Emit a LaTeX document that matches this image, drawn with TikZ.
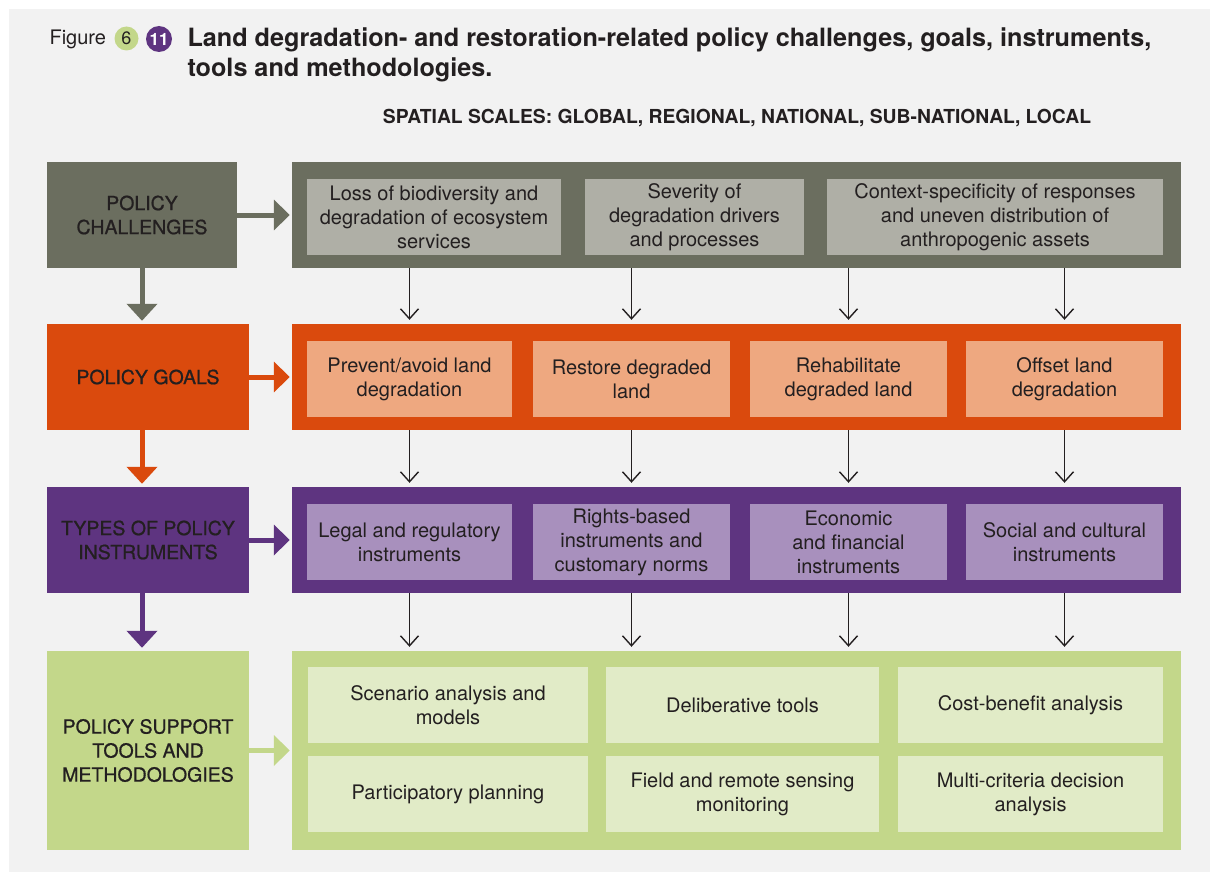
\documentclass[tikz,border=0pt]{standalone}
\usepackage{fontspec}
\setmainfont{TeX Gyre Heros}
\newfontfamily\labelfont[FakeBold=0.8]{TeX Gyre Heros}
\usetikzlibrary{arrows.meta,positioning}
\definecolor{pagegray}{RGB}{242,242,242}
\definecolor{chalDark}{RGB}{107,110,95}
\definecolor{chalLight}{RGB}{175,175,166}
\definecolor{goalDark}{RGB}{218,74,13}
\definecolor{goalLight}{RGB}{238,168,128}
\definecolor{instrDark}{RGB}{94,52,128}
\definecolor{instrLight}{RGB}{168,144,189}
\definecolor{suppDark}{RGB}{195,215,138}
\definecolor{suppLight}{RGB}{225,235,199}
\definecolor{inktext}{RGB}{35,31,32}
\tikzset{
    % Left-hand category boxes
    catbox/.style={
        rectangle,
        inner sep=0pt,
        minimum height=106pt,
        align=center,
        text=inktext,
        font=\labelfont\fontsize{19.5}{24}\selectfont
    },
    % Wide coloured panels
    panel/.style={
        rectangle,
        inner sep=0pt,
        minimum width=889pt,
        minimum height=106pt
    },
    % Inner text boxes
    itembox/.style={
        rectangle,
        inner sep=0pt,
        minimum height=76pt,
        align=center,
        text=inktext,
        font=\fontsize{20}{24}\selectfont
    },
    % Arrows
    bigdown/.style={
        -{Triangle[width=30pt,length=17pt]},
        line width=5pt,
        shorten >=3pt
    },
    bigright/.style={
        -{Triangle[width=30pt,length=16pt]},
        line width=5pt,
        shorten >=2pt
    },
    thinarrow/.style={
        -{Straight Barb[width=18pt,length=10pt]},
        line width=1.4pt,
        draw=inktext,
        shorten >=4pt
    }
}

\begin{document}
\begin{tikzpicture}[x=1pt, y=-1pt]

    % Page
    \useasboundingbox (0,0) rectangle (1210,872);
    \fill[white] (0,0) rectangle (1210,872);
    \fill[pagegray] (9,9) rectangle (1210,872);

    % Title
    \node[anchor=base west, font=\fontsize{20}{24}\selectfont, text=inktext] (figWord) at (46,44.5) {Figure};
    \node[circle, fill=suppDark, minimum size=24pt, inner sep=0pt, text=inktext, font=\fontsize{18}{18}\selectfont] (figSix) at (126.5,38.5) {6};
    \node[circle, fill=instrDark, minimum size=26pt, inner sep=0pt, text=white, font=\fontsize{17}{17}\selectfont\bfseries] (figEleven) at (159,39) {11};
    \node[anchor=base west, font=\fontsize{25.2}{30}\selectfont\bfseries, text=inktext] (title) at (184,47) {Land degradation- and restoration-related policy challenges, goals, instruments,};
    \node[anchor=base west, font=\fontsize{25.2}{30}\selectfont\bfseries, text=inktext] (titleb) at (184,77) {tools and methodologies.};
    \node[anchor=base, font=\fontsize{19.3}{22}\selectfont\bfseries, text=inktext] (scales) at (737,124) {SPATIAL SCALES: GLOBAL, REGIONAL, NATIONAL, SUB-NATIONAL, LOCAL};

    % Left-hand categories
    \node[catbox, fill=chalDark, minimum width=190pt] (chalLbl) at (142,215) {POLICY\\CHALLENGES};
    \node[catbox, fill=goalDark, minimum width=202pt] (goalLbl) at (148,377) {POLICY GOALS};
    \node[catbox, fill=instrDark, minimum width=202pt] (instrLbl) at (148,540) {TYPES OF POLICY\\INSTRUMENTS};
    \node[catbox, fill=suppDark, minimum width=202pt, minimum height=199pt] (suppLbl) at (148,750.5) {POLICY SUPPORT\\TOOLS AND\\METHODOLOGIES};

    % Panels
    \node[panel, fill=chalDark] (chalPanel) at (736.5,215) {};
    \node[panel, fill=goalDark] (goalPanel) at (736.5,377) {};
    \node[panel, fill=instrDark] (instrPanel) at (736.5,540) {};
    \node[panel, fill=suppDark, minimum height=199pt] (suppPanel) at (736.5,750.5) {};

    % Policy challenges
    \node[itembox, fill=chalLight, minimum width=254pt] (chalA) at (434,217) {Loss of biodiversity and\\degradation of ecosystem\\services};
    \node[itembox, fill=chalLight, minimum width=219pt] (chalB) at (694.5,217) {Severity of\\degradation drivers\\and processes};
    \node[itembox, fill=chalLight, minimum width=336pt] (chalC) at (995,217) {Context-specificity of responses\\and uneven distribution of\\anthropogenic assets};

    % Policy goals
    \node[itembox, fill=goalLight, minimum width=205pt] (goalA) at (409.5,379) {Prevent/avoid land\\degradation};
    \node[itembox, fill=goalLight, minimum width=197pt] (goalB) at (631.5,379) {Restore degraded\\land};
    \node[itembox, fill=goalLight, minimum width=197pt] (goalC) at (848.5,379) {Rehabilitate\\degraded land};
    \node[itembox, fill=goalLight, minimum width=197pt] (goalD) at (1064.5,379) {Offset land\\degradation};

    % Policy instruments
    \node[itembox, fill=instrLight, minimum width=205pt] (instrA) at (409.5,542) {Legal and regulatory\\instruments};
    \node[itembox, fill=instrLight, minimum width=197pt] (instrB) at (631.5,542) {Rights-based\\instruments and\\customary norms};
    \node[itembox, fill=instrLight, minimum width=197pt] (instrC) at (848.5,542) {Economic\\and financial\\instruments};
    \node[itembox, fill=instrLight, minimum width=197pt] (instrD) at (1064.5,542) {Social and cultural\\instruments};

    % Support tools
    \node[itembox, fill=suppLight, minimum width=280pt] (suppA) at (448,705) {Scenario analysis and\\models};
    \node[itembox, fill=suppLight, minimum width=273pt] (suppB) at (742.5,705) {Deliberative tools};
    \node[itembox, fill=suppLight, minimum width=265pt] (suppC) at (1030.5,705) {Cost-benefit analysis};
    \node[itembox, fill=suppLight, minimum width=280pt] (suppD) at (448,794) {Participatory planning};
    \node[itembox, fill=suppLight, minimum width=273pt] (suppE) at (742.5,794) {Field and remote sensing\\monitoring};
    \node[itembox, fill=suppLight, minimum width=265pt] (suppF) at (1030.5,794) {Multi-criteria decision\\analysis};

    % Left-hand arrows
    \draw[bigdown, chalDark] (chalLbl.south) -- (chalLbl.south |- goalLbl.north);
    \draw[bigdown, goalDark] (goalLbl.south -| chalLbl.south) -- (instrLbl.north -| chalLbl.south);
    \draw[bigdown, instrDark] (instrLbl.south -| chalLbl.south) -- (suppLbl.north -| chalLbl.south);
    \draw[bigright, chalDark] (chalLbl.east) -- (chalLbl.east -| chalPanel.west);
    \draw[bigright, goalDark] (goalLbl.east) -- (goalLbl.east -| goalPanel.west);
    \draw[bigright, instrDark] (instrLbl.east) -- (instrLbl.east -| instrPanel.west);
    \draw[bigright, suppDark] (suppLbl.east) -- (suppLbl.east -| suppPanel.west);

    % Panel to panel arrows
    \foreach \c in {A,B,C,D} {
        \draw[thinarrow] (chalPanel.south -| goal\c) -- (goalPanel.north -| goal\c);
        \draw[thinarrow] (goalPanel.south -| goal\c) -- (instrPanel.north -| goal\c);
        \draw[thinarrow] (instrPanel.south -| goal\c) -- (suppPanel.north -| goal\c);
    }

\end{tikzpicture}
\end{document}
